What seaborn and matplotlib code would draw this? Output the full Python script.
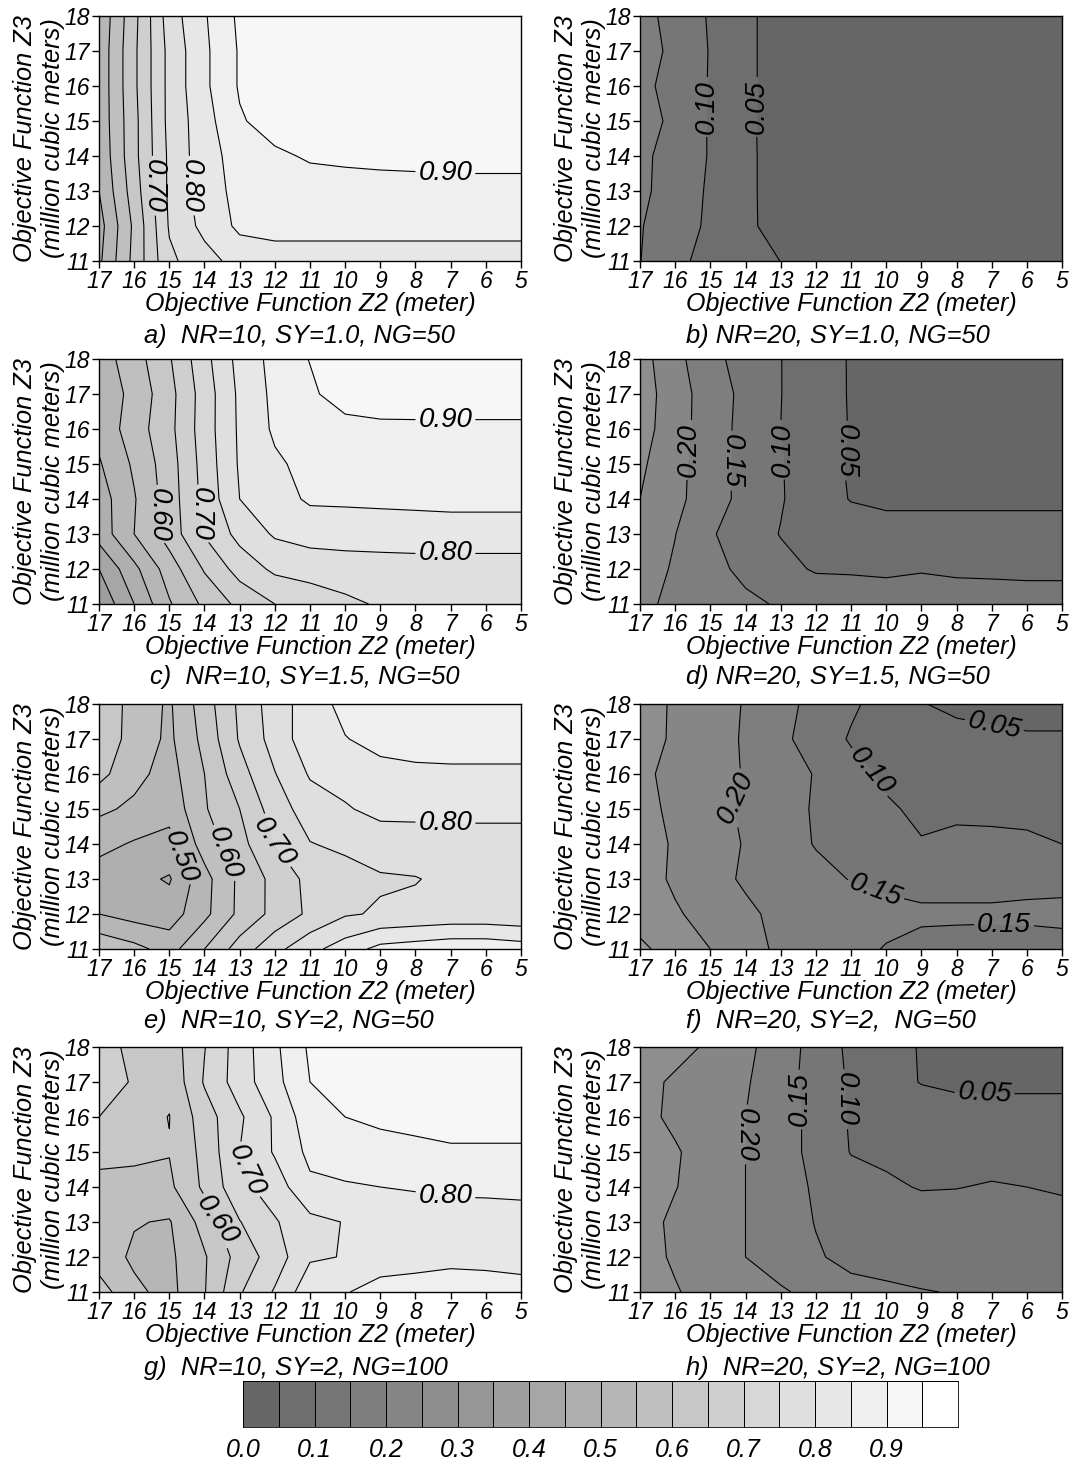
import numpy as np
import matplotlib
matplotlib.use('Agg')
import matplotlib.pyplot as plt
from matplotlib.colors import ListedColormap
import seaborn as sns

# Grid of the contour tables
z2_values = [17, 16, 15, 14, 13, 12, 11, 10, 9, 8, 7, 6, 5]
z3_values = [11, 12, 13, 14, 15, 16, 17, 18]

# Reliability, rows go from Z3=11 up to Z3=18
panel_a = [
    [.49, .615, .74, .78, .82, .83, .83, .83, .83, .83, .83, .83, .83],
    [.48, .61, .755, .815, .86, .865, .865, .865, .865, .865, .865, .865, .865],
    [.50, .625, .76, .826, .865, .875, .88, .883, .885, .885, .885, .885, .885],
    [.51, .635, .76, .83, .87, .892, .905, .908, .91, .912, .915, .915, .915],
    [.515, .635, .765, .83, .895, .92, .93, .93, .93, .93, .93, .93, .93],
    [.515, .64, .765, .84, .905, .93, .935, .935, .935, .935, .935, .935, .935],
    [.515, .64, .765, .84, .905, .93, .935, .935, .935, .935, .935, .935, .935],
    [.51, .635, .775, .845, .91, .93, .935, .935, .935, .935, .935, .935, .935],
]
panel_b = [
    [.151, .118, .076, .07, .0495, .04, .035, .03, .03, .03, .03, .03, .03],
    [.153, .123, .0915, .058, .035, .03, .03, .03, .03, .03, .03, .03, .03],
    [.16, .129, .093, .06, .03, .03, .03, .03, .03, .03, .03, .03, .03],
    [.163, .127, .097, .06, .03, .03, .03, .03, .03, .03, .03, .03, .03],
    [.18, .134, .096, .059, .03, .03, .03, .03, .03, .03, .03, .03, .03],
    [.165, .13, .097, .06, .03, .03, .03, .03, .03, .03, .03, .03, .03],
    [.18, .134, .0975, .06, .03, .03, .03, .03, .03, .03, .03, .03, .03],
    [.17, .13, .0955, .06, .03, .03, .03, .03, .03, .03, .03, .03, .03],
]
panel_c = [
    [.36, .45, .545, .611, .663, .70, .72, .74, .755, .757, .76, .76, .76],
    [.40, .487, .575, .655, .72, .76, .77, .775, .778, .78, .78, .78, .78],
    [.47, .55, .622, .704, .766, .806, .82, .823, .824, .825, .825, .825, .825],
    [.475, .546, .624, .715, .80, .83, .857, .858, .86, .862, .865, .865, .865],
    [.495, .558, .6275, .72, .806, .842, .865, .87, .872, .875, .875, .875, .875],
    [.515, .575, .636, .725, .808, .858, .87, .88, .889, .889, .889, .889, .889],
    [.515, .565, .633, .7235, .81, .862, .89, .927, .928, .93, .93, .93, .93],
    [.525, .5776, .645, .734, .817, .866, .902, .93, .935, .935, .935, .935, .935],
]
panel_d = [
    [.215, .185, .172, .16, .145, .135, .125, .118, .115, .115, .115, .112, .112],
    [.225, .194, .165, .138, .115, .095, .095, .094, .098, .095, .094, .094, .094],
    [.235, .201, .155, .1256, .098, .082, .072, .07, .07, .07, .07, .07, .07],
    [.25, .213, .172, .135, .104, .07, .048, .04, .04, .04, .04, .04, .04],
    [.259, .215, .1725, .135, .103, .07, .045, .03, .03, .03, .03, .03, .03],
    [.272, .2195, .177, .133, .10, .068, .048, .03, .03, .03, .03, .03, .03],
    [.275, .222, .176, .137, .101, .07, .047, .03, .03, .03, .03, .03, .03],
    [.27, .215, .165, .13, .101, .069, .047, .03, .03, .03, .03, .03, .03],
]
panel_e = [
    [.59, .565, .53, .60, .672, .735, .785, .825, .865, .875, .885, .885, .875],
    [.50, .48, .475, .537, .612, .665, .71, .745, .755, .76, .765, .765, .76],
    [.475, .465, .445, .533, .611, .665, .715, .73, .745, .748, .76, .76, .76],
    [.515, .495, .486, .572, .633, .70, .748, .76, .772, .775, .778, .778, .778],
    [.56, .54, .515, .595, .65, .725, .775, .795, .815, .815, .815, .815, .815],
    [.615, .565, .53, .60, .68, .748, .805, .82, .835, .84, .84, .84, .84],
    [.635, .58, .54, .615, .705, .77, .83, .848, .865, .87, .875, .875, .875],
    [.64, .58, .543, .626, .71, .775, .825, .865, .885, .89, .89, .89, .89],
]
panel_f = [
    [.307, .285, .25, .22, .19, .175, .16, .148, .138, .135, .133, .135, .14],
    [.285, .255, .234, .21, .187, .178, .165, .16, .157, .157, .157, .157, .157],
    [.27, .243, .218, .193, .18, .165, .148, .142, .135, .135, .135, .14, .142],
    [.27, .245, .22, .197, .173, .147, .135, .12, .103, .112, .115, .108, .10],
    [.265, .24, .215, .193, .17, .145, .122, .107, .09, .09, .085, .088, .09],
    [.26, .237, .218, .197, .173, .147, .118, .09, .08, .075, .07, .07, .07],
    [.27, .243, .22, .195, .16, .13, .095, .08, .07, .065, .06, .056, .056],
    [.27, .244, .22, .197, .165, .136, .108, .08, .052, .04, .035, .03, .03],
]
panel_g = [
    [.6235, .56, .535, .597, .695, .755, .833, .845, .88, .885, .89, .885, .875],
    [.575, .542, .54, .595, .67, .724, .794, .802, .81, .82, .83, .828, .825],
    [.575, .553, .546, .62, .698, .745, .787, .802, .81, .818, .825, .828, .83],
    [.585, .585, .59, .66, .735, .775, .84, .845, .85, .855, .86, .86, .862],
    [.615, .61, .602, .665, .75, .805, .862, .875, .885, .89, .895, .895, .895],
    [.65, .615, .599, .676, .742, .807, .88, .90, .908, .912, .915, .915, .915],
    [.685, .643, .61, .705, .775, .834, .90, .926, .94, .945, .945, .945, .945],
    [.685, .628, .622, .698, .775, .84, .908, .935, .945, .948, .948, .948, .948],
]
panel_h = [
    [.27, .253, .235, .22, .205, .188, .165, .158, .152, .148, .145, .145, .145],
    [.265, .245, .222, .20, .18, .155, .137, .133, .13, .13, .13, .13, .13],
    [.27, .24, .225, .20, .175, .148, .135, .13, .125, .125, .125, .125, .125],
    [.275, .252, .225, .20, .175, .143, .12, .108, .097, .0985, .104, .10, .092],
    [.28, .255, .227, .20, .172, .135, .098, .09, .085, .08, .08, .08, .08],
    [.265, .24, .222, .20, .172, .135, .095, .085, .075, .072, .07, .07, .07],
    [.265, .243, .225, .205, .17, .13, .094, .068, .048, .04, .04, .04, .04],
    [.285, .265, .243, .21, .178, .129, .09, .067, .047, .04, .035, .035, .035],
]

panels = [panel_a, panel_b, panel_c, panel_d, panel_e, panel_f, panel_g, panel_h]

captions = [
    'a)  NR=10, SY=1.0, NG=50', 'b) NR=20, SY=1.0, NG=50',
    'c)  NR=10, SY=1.5, NG=50', 'd) NR=20, SY=1.5, NG=50',
    'e)  NR=10, SY=2, NG=50', 'f)  NR=20, SY=2,  NG=50',
    'g)  NR=10, SY=2, NG=100', 'h)  NR=20, SY=2, NG=100',
]

# contour labels: level, printed text, z2, z3, rotation
labels_a = [(.70, '0.70', 15.5, 13.15, -90), (.80, '0.80', 14.4, 13.15, -90), (.90, '0.90', 7.15, 13.55, 0)]
labels_b = [(.10, '0.10', 15.05, 15.4, 90), (.05, '0.05', 13.55, 15.4, 90)]
labels_c = [(.60, '0.60', 15.4, 13.55, -90), (.70, '0.70', 14.2, 13.55, -90),
            (.90, '0.90', 7.15, 16.25, 0), (.80, '0.80', 7.15, 12.5, 0)]
labels_d = [(.20, '0.20', 15.6, 15.4, 90), (.15, '0.15', 14.45, 15.1, -90),
            (.10, '0.10', 13.05, 15.4, 90), (.05, '0.05', 11.35, 15.4, -90)]
labels_e = [(.50, '0.50', 14.75, 13.6, -70), (.60, '0.60', 13.55, 13.7, -70),
            (.70, '0.70', 12.05, 14.05, -55), (.80, '0.80', 7.15, 14.6, 0)]
labels_f = [(.20, '0.20', 14.2, 15.3, 65), (.10, '0.10', 10.65, 15.9, -50), (.05, '0.05', 6.95, 17.25, -12),
            (.15, '0.15', 10.3, 12.7, -20), (.15, '0.15', 6.65, 11.6, 0)]
labels_g = [(.65, '0.60', 13.75, 13.0, -55), (.75, '0.70', 12.75, 14.5, -65), (.85, '0.80', 7.15, 13.75, 0)]
labels_h = [(.20, '0.20', 13.95, 15.5, -90), (.15, '0.15', 12.45, 16.5, 90),
            (.10, '0.10', 11.3, 16.5, -90), (.05, '0.05', 7.2, 16.75, -3)]
panel_labels = [labels_a, labels_b, labels_c, labels_d, labels_e, labels_f, labels_g, labels_h]

bar_labels = ['0.0', '0.1', '0.2', '0.3', '0.4', '0.5', '0.6', '0.7', '0.8', '0.9']

contour_levels = np.round(np.arange(0, 1.0001, 0.05), 2)

sns.set_theme(style='ticks')
plt.rcParams['font.family'] = ['Liberation Sans', 'DejaVu Sans']
plt.rcParams['font.style'] = 'italic'
plt.rcParams['text.color'] = 'black'
plt.rcParams['axes.labelcolor'] = 'black'
plt.rcParams['xtick.color'] = 'black'
plt.rcParams['ytick.color'] = 'black'
plt.rcParams['axes.edgecolor'] = 'black'

greys = sns.blend_palette(['#666666', '#ffffff'], 20)

W, H = 1074, 1461
fig = plt.figure(figsize=(W / 100, H / 100), dpi=100)

col_left = [99, 640]
row_top = [16, 359, 704, 1047]
caption_y = [336, 677, 1021, 1368]
caption_x = [144, 686, 150, 686, 144, 686, 144, 686]


def px_axes(left, top, width, height):
    return fig.add_axes([left / W, 1 - (top + height) / H, width / W, height / H])


for i, values in enumerate(panels):
    col = i % 2
    row = i // 2
    ax = px_axes(col_left[col], row_top[row], 422, 245)
    z = np.array(values)
    ax.contourf(z2_values, z3_values, z, levels=contour_levels, colors=greys)
    ax.set_xlim(17, 5)
    ax.set_ylim(11, 18)

    # one contour set per level, clabel only finds a single level reliably this way
    line_sets = {}
    for level in contour_levels:
        if z.min() < level < z.max():
            line_sets[level] = ax.contour(z2_values, z3_values, z, levels=[level],
                                          colors='black', linewidths=0.8)

    ax.set_xticks(z2_values)
    ax.set_yticks(z3_values)
    ax.tick_params(labelsize=16.5, length=5, width=1, pad=1.5, color='black')
    for spine in ax.spines.values():
        spine.set_linewidth(1)
    ax.set_xlabel('Objective Function Z2 (meter)', fontsize=18, va='center')
    ax.xaxis.set_label_coords(0.502, -0.175)
    ax.set_ylabel('Objective Function Z3\n(million cubic meters)', fontsize=18.3, va='center',
                  ha='center', linespacing=1.2)
    ax.yaxis.set_label_coords(-0.142, 0.5)

    for level, text, z2, z3, angle in panel_labels[i]:
        texts = line_sets[round(level, 2)].clabel(manual=[(z2, z3)], fmt='%.2f', inline=True,
                                                  inline_spacing=3, fontsize=20, colors='black')
        texts[-1].set_text(text)
        texts[-1].set_rotation(angle)

    fig.text(caption_x[i] / W, 1 - caption_y[row] / H, captions[i], fontsize=18.4, va='center')

# grey scale strip at the bottom
cax = px_axes(243, 1381, 715, 46)
sns.heatmap(np.arange(20).reshape(1, 20), cmap=ListedColormap(greys), cbar=False,
            linewidths=0.6, linecolor='black', ax=cax)
for spine in cax.spines.values():
    spine.set_visible(True)
    spine.set_linewidth(0.6)
cax.set_yticks([])
cax.set_xticks(np.arange(0, 20, 2))
cax.set_xticklabels(bar_labels, rotation=0, fontsize=18)
cax.tick_params(axis='x', length=0, pad=8)

fig.savefig('out.png', dpi=100)
